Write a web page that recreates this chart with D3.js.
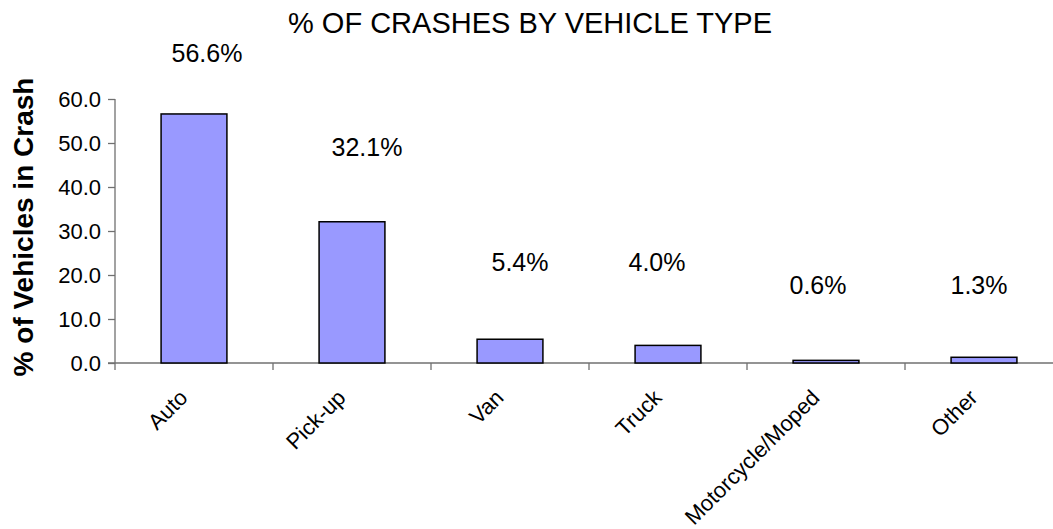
<!DOCTYPE html>
<html>
<head>
<meta charset="utf-8">
<script src="https://cdn.jsdelivr.net/npm/d3@7"></script>
<style>
  html, body { margin: 0; padding: 0; background: #fff; }
  #app { width: 1053px; height: 529px; overflow: hidden; }
  text { font-family: "Liberation Sans", Arial, sans-serif; fill: #000; }
</style>
</head>
<body>
<div id="app"></div>
<script>
// Chart data
const categories = ["Auto", "Pick-up", "Van", "Truck", "Motorcycle/Moped", "Other"];
const percents = [56.6, 32.1, 5.4, 4.0, 0.6, 1.3];
const yTicks = [0, 10, 20, 30, 40, 50, 60];

// Manual nudges of the data labels (dx, gap above bar top), as placed in the original
const labelNudge = [[13, 52], [15, 66], [10, 68], [-11, 74], [-8, 66], [-5, 63]];

function drawPlot(targetDiv) {
  const element = d3.select(targetDiv);
  const width = 1053;
  const height = 529;
  const margin = {top: 99, bottom: 166, left: 115, right: -10};

  const svg = d3.create("svg")
    .attr("width", width)
    .attr("height", height)
    .attr("viewBox", [0, 0, width, height]);

  const x = d3.scaleBand()
    .domain(categories)
    .range([margin.left, width - margin.right])
    .paddingInner(1.4 / 2.4)
    .paddingOuter(0.7 / 2.4);

  const y = d3.scaleLinear()
    .domain([0, 60])
    .range([height - margin.bottom, margin.top]);

  const axisColor = "#707070";

  // y axis
  const yAxis = svg.append("g")
    .attr("transform", `translate(${margin.left},0)`)
    .call(d3.axisLeft(y).tickValues(yTicks).tickFormat(d3.format(".1f")).tickSize(7).tickSizeOuter(0));
  yAxis.select(".domain").remove();
  yAxis.selectAll(".tick line").attr("stroke", axisColor).attr("stroke-width", 1.3);
  yAxis.selectAll(".tick text")
    .attr("x", -14)
    .attr("font-size", 22)
    .attr("font-family", null);
  yAxis.append("line")
    .attr("x1", 0).attr("x2", 0)
    .attr("y1", y(60)).attr("y2", y(0) + 7)
    .attr("stroke", axisColor).attr("stroke-width", 1.3);

  // x axis: ticks at category boundaries
  const step = x.step();
  const bounds = d3.range(categories.length + 1).map(i => margin.left + i * step);
  const xAxis = svg.append("g");
  xAxis.append("line")
    .attr("x1", margin.left - 7).attr("x2", width)
    .attr("y1", y(0)).attr("y2", y(0))
    .attr("stroke", axisColor).attr("stroke-width", 1.3);
  xAxis.selectAll(".xtick")
    .data(bounds.slice(1))
    .join("line")
    .attr("class", "xtick")
    .attr("x1", d => d).attr("x2", d => d)
    .attr("y1", y(0)).attr("y2", y(0) + 7)
    .attr("stroke", axisColor).attr("stroke-width", 1.3);

  // bars
  svg.append("g")
    .selectAll("rect")
    .data(percents)
    .join("rect")
    .attr("x", (d, i) => x(categories[i]))
    .attr("width", x.bandwidth())
    .attr("y", d => y(d))
    .attr("height", d => y(0) - y(d))
    .attr("fill", "#9999ff")
    .attr("stroke", "#000")
    .attr("stroke-width", 1.5);

  // data labels
  svg.append("g")
    .selectAll("text")
    .data(percents)
    .join("text")
    .attr("x", (d, i) => x(categories[i]) + x.bandwidth() / 2 + labelNudge[i][0])
    .attr("y", (d, i) => y(d) - labelNudge[i][1])
    .attr("text-anchor", "middle")
    .attr("font-size", 25)
    .text(d => d3.format(".1f")(d) + "%");

  // category labels, rotated
  svg.append("g")
    .selectAll("text")
    .data(categories)
    .join("text")
    .attr("transform", d => `translate(${x(d) + x.bandwidth() / 2 - 5},${y(0) + 36}) rotate(-45)`)
    .attr("text-anchor", "end")
    .attr("font-size", 22)
    .text(d => d);

  // y axis title
  svg.append("text")
    .attr("transform", `translate(33,${(y(0) + y(60)) / 2 - 4}) rotate(-90)`)
    .attr("text-anchor", "middle")
    .attr("font-size", 28)
    .attr("font-weight", "bold")
    .text("% of Vehicles in Crash");

  // chart title
  svg.append("text")
    .attr("x", 530)
    .attr("y", 33)
    .attr("text-anchor", "middle")
    .attr("font-size", 29)
    .text("% OF CRASHES BY VEHICLE TYPE");

  element.node().append(svg.node());
}

function main() {
  drawPlot("#app");
}

document.addEventListener("DOMContentLoaded", main);
</script>
</body>
</html>
